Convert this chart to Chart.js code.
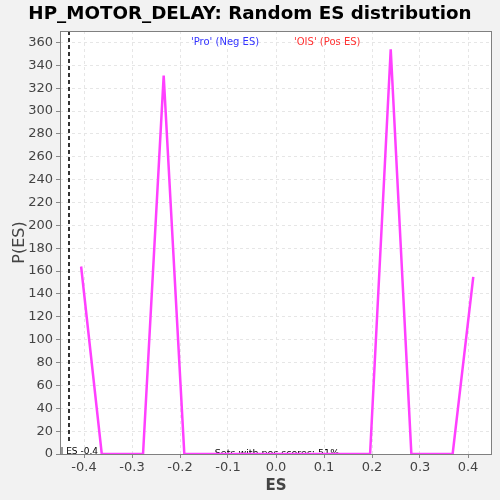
<!DOCTYPE html>
<html>
<head>
<meta charset="utf-8">
<script src="https://cdn.jsdelivr.net/npm/chart.js@4.4.0/dist/chart.umd.min.js"></script>
<style>
  html, body { margin: 0; padding: 0; background: #f2f2f2; }
  #wrap { width: 500px; height: 500px; }
</style>
</head>
<body>
<div id="wrap"><canvas id="esChart" width="500" height="500"></canvas></div>
<script>
// ES bin centres and density
const esValues = [-0.406, -0.363, -0.320, -0.277, -0.234, -0.191, -0.148, -0.105, -0.062, -0.019,
                  0.024, 0.067, 0.110, 0.153, 0.196, 0.239, 0.282, 0.325, 0.368, 0.411];
const density = [164, 0, 0, 0, 331, 0, 0, 0, 0, 0,
                 0, 0, 0, 0, 0, 354, 0, 0, 0, 155];
const actualES = -0.431;
const xTicks = [-0.4, -0.3, -0.2, -0.1, 0.0, 0.1, 0.2, 0.3, 0.4];
const yTicks = [0, 20, 40, 60, 80, 100, 120, 140, 160, 180, 200, 220, 240, 260, 280, 300, 320, 340, 360];

const chartTitle = 'HP_MOTOR_DELAY: Random ES distribution';
const negLabel = "'Pro' (Neg ES)";
const posLabel = "'OIS' (Pos ES)";
const actualLabel = 'Actual ES -0.4';
const posScoresLabel = 'Sets with pos scores: 51%';

const points = esValues.map((x, i) => ({ x: x, y: density[i] }));

// extra drawing: title, axis titles, frame, dashed ES line, notes
const decorations = {
    id: 'decorations',
    beforeDraw(chart) {
        const ctx = chart.ctx;
        const a = chart.chartArea;
        ctx.save();
        ctx.fillStyle = '#ffffff';
        ctx.fillRect(a.left, a.top, a.right - a.left, a.bottom - a.top);
        ctx.restore();
    },
    beforeDatasetsDraw(chart) {
        const ctx = chart.ctx;
        const a = chart.chartArea;
        ctx.save();
        ctx.beginPath();
        ctx.rect(a.left, a.top, a.right - a.left, a.bottom - a.top);
        ctx.clip();
        ctx.font = '9px "DejaVu Sans", sans-serif';
        ctx.fillStyle = '#000000';
        ctx.textBaseline = 'alphabetic';
        ctx.textAlign = 'right';
        ctx.fillText(actualLabel, a.left + 38, a.bottom - 0.5);
        ctx.font = '9.5px "DejaVu Sans", sans-serif';
        ctx.textAlign = 'center';
        ctx.fillText(posScoresLabel, (a.left + a.right) / 2 + 1, a.bottom + 2);
        ctx.restore();
    },
    afterDatasetsDraw(chart) {
        const ctx = chart.ctx;
        const a = chart.chartArea;
        const xs = chart.scales.x;

        ctx.save();
        ctx.beginPath();
        ctx.rect(a.left, a.top, a.right - a.left, a.bottom - a.top);
        ctx.clip();

        // actual ES line
        const lx = Math.round(xs.getPixelForValue(actualES));
        ctx.strokeStyle = '#333333';
        ctx.lineWidth = 2;
        ctx.setLineDash([4, 3]);
        ctx.beginPath();
        ctx.moveTo(lx, a.top);
        ctx.lineTo(lx, a.bottom - 12);
        ctx.stroke();
        ctx.setLineDash([]);

        ctx.font = '10px "DejaVu Sans", sans-serif';
        ctx.textAlign = 'left';
        ctx.fillStyle = '#3333ff';
        ctx.fillText(negLabel, 191, a.top + 14);
        ctx.fillStyle = '#ff3333';
        ctx.fillText(posLabel, 294, a.top + 14);
        ctx.restore();

        ctx.save();
        ctx.strokeStyle = '#808080';
        ctx.lineWidth = 1;
        ctx.strokeRect(a.left + 0.5, a.top + 0.5, a.right - a.left - 1, a.bottom - a.top);

        ctx.fillStyle = '#000000';
        ctx.font = 'bold 18.3px "DejaVu Sans", sans-serif';
        ctx.textAlign = 'center';
        ctx.textBaseline = 'middle';
        ctx.fillText(chartTitle, 250, 14);

        ctx.fillStyle = '#444444';
        ctx.font = 'bold 15px "DejaVu Sans", sans-serif';
        ctx.fillText('ES', (a.left + a.right) / 2, 486);

        ctx.translate(20, (a.top + a.bottom) / 2);
        ctx.rotate(-Math.PI / 2);
        ctx.font = '16px "DejaVu Sans", sans-serif';
        ctx.fillText('P(ES)', 0, 0);
        ctx.restore();
    }
};

new Chart(document.getElementById('esChart').getContext('2d'), {
    type: 'line',
    data: {
        datasets: [{
            label: 'P(ES)',
            data: points,
            borderColor: '#ff40ff',
            borderWidth: 2.5,
            pointRadius: 0,
            fill: false,
            tension: 0
        }]
    },
    options: {
        responsive: false,
        animation: false,
        layout: { padding: { top: 31, right: 8, left: 0, bottom: 0 } },
        plugins: {
            legend: { display: false },
            title: { display: false },
            tooltip: { enabled: false }
        },
        scales: {
            x: {
                type: 'linear',
                min: -0.45,
                max: 0.45,
                afterFit(scale) { scale.height = 46; },
                afterBuildTicks(scale) { scale.ticks = xTicks.map(v => ({ value: v })); },
                ticks: {
                    color: '#444444',
                    font: { size: 13, family: '"DejaVu Sans", sans-serif' },
                    padding: 2,
                    callback: v => v.toFixed(1)
                },
                grid: {
                    color: '#e6e6e6',
                    tickColor: '#888888',
                    tickLength: 4,
                    drawTicks: true
                },
                border: { display: false, dash: [3, 3] }
            },
            y: {
                min: 0,
                max: 370,
                afterFit(scale) { scale.width = 60; },
                afterBuildTicks(scale) { scale.ticks = yTicks.map(v => ({ value: v })); },
                ticks: {
                    color: '#444444',
                    font: { size: 13, family: '"DejaVu Sans", sans-serif' },
                    padding: 3
                },
                grid: {
                    color: '#e6e6e6',
                    tickColor: '#888888',
                    tickLength: 4
                },
                border: { display: false, dash: [3, 3] }
            }
        }
    },
    plugins: [decorations]
});
</script>
</body>
</html>
